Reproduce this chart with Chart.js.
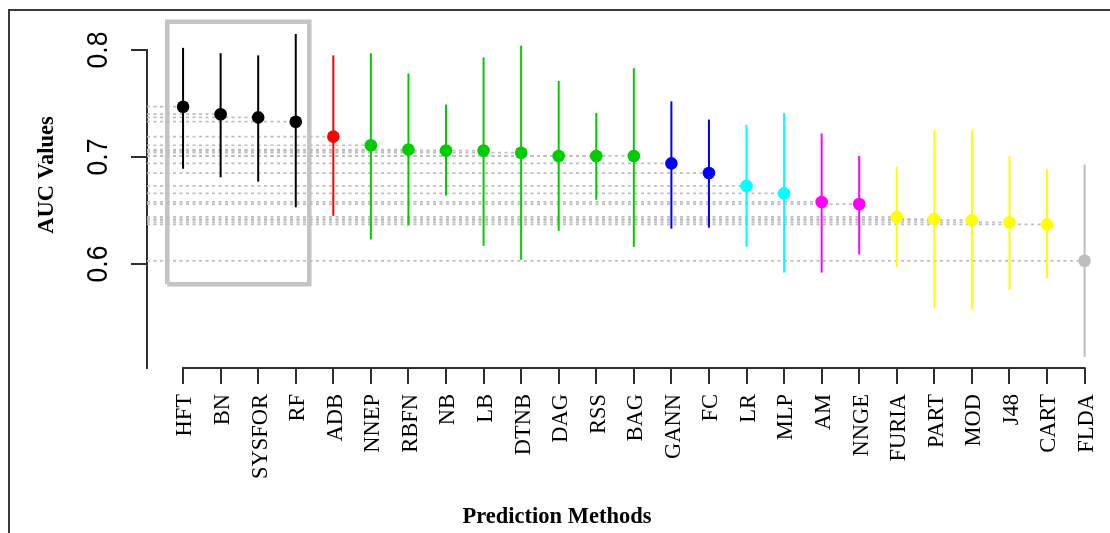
<!DOCTYPE html>
<html>
<head>
<meta charset="utf-8">
<title>AUC Values by Prediction Method</title>
<script src="https://cdn.jsdelivr.net/npm/chart.js@4.4.1/dist/chart.umd.min.js"></script>
<style>
  html, body { margin: 0; padding: 0; background: #fff; overflow: hidden; }
  #wrap { position: relative; width: 1110px; height: 533px; }
  #frame { position: absolute; left: 8px; top: 9px; right: -20px; bottom: -20px;
           border-left: 2.5px solid #3a3a3a; border-top: 2.5px solid #3a3a3a; pointer-events: none; }
  canvas { display: block; }
</style>
</head>
<body>
<div id="wrap">
  <canvas id="chart" width="1110" height="533"></canvas>
  <div id="frame"></div>
</div>
<script>
// Prediction methods, ordered by mean AUC
const methods = ['HFT', 'BN', 'SYSFOR', 'RF', 'ADB', 'NNEP', 'RBFN', 'NB', 'LB', 'DTNB', 'DAG', 'RSS', 'BAG',
                 'GANN', 'FC', 'LR', 'MLP', 'AM', 'NNGE', 'FURIA', 'PART', 'MOD', 'J48', 'CART', 'FLDA'];
// Mean AUC per method
const aucMean = [0.747, 0.740, 0.737, 0.733, 0.719, 0.711, 0.707, 0.706, 0.706, 0.704, 0.701, 0.701, 0.701,
                 0.694, 0.685, 0.673, 0.666, 0.658, 0.656, 0.644, 0.642, 0.641, 0.639, 0.637, 0.603];
// Lower end of each interval
const aucLow = [0.689, 0.681, 0.677, 0.653, 0.645, 0.623, 0.636, 0.664, 0.617, 0.604, 0.631, 0.660, 0.616,
                0.633, 0.634, 0.616, 0.592, 0.592, 0.609, 0.597, 0.559, 0.558, 0.576, 0.587, 0.513];
// Upper end of each interval
const aucHigh = [0.802, 0.797, 0.795, 0.815, 0.795, 0.797, 0.778, 0.749, 0.793, 0.804, 0.771, 0.741, 0.783,
                 0.752, 0.735, 0.730, 0.741, 0.722, 0.701, 0.691, 0.725, 0.725, 0.701, 0.689, 0.693];
// Group index of each method (methods in one group are not significantly different)
const methodGroup = [0, 0, 0, 0, 1, 2, 2, 2, 2, 2, 2, 2, 2, 3, 3, 4, 4, 5, 5, 6, 6, 6, 6, 6, 7];
// Y axis tick values and labels
const yTickValues = [0.6, 0.7, 0.8];
const yTickLabels = ['0.6', '0.7', '0.8'];
// Highlighted top group, in data units
const topGroupX = [0.58, 4.36];
const topGroupY = [0.581, 0.8265];

// Styling
const groupColors = ['#000000', '#FF0000', '#00CD00', '#0000FF', '#00FFFF', '#FF00FF', '#FFFF00', '#BEBEBE'];
const refColor = '#BEBEBE';
const axisColor = '#2e2e2e';
const X_MIN = 0.04, X_MAX = 25.509;
const Y_MIN = 0.5028, Y_MAX = 0.8;

const colorOf = i => groupColors[methodGroup[i]];

// Mean markers
const pointSet = {
  type: 'scatter',
  order: 0,
  clip: false,
  data: methods.map((m, i) => ({ x: i + 1, y: aucMean[i] })),
  pointRadius: 6.3,
  pointHoverRadius: 6.3,
  pointBorderWidth: 0,
  pointBackgroundColor: methods.map((m, i) => colorOf(i)),
  showLine: false
};

// Interval whiskers
const whiskerSets = methods.map((m, i) => ({
  type: 'line',
  order: 1,
  clip: false,
  data: [{ x: i + 1, y: aucLow[i] }, { x: i + 1, y: aucHigh[i] }],
  borderColor: colorOf(i),
  borderWidth: 2,
  pointRadius: 0,
  pointHoverRadius: 0,
  fill: false
}));

// Dashed reference lines from the axis to each mean
const refSets = methods.map((m, i) => ({
  type: 'line',
  order: 2,
  clip: false,
  data: [{ x: X_MIN, y: aucMean[i] }, { x: i + 1, y: aucMean[i] }],
  borderColor: refColor,
  borderWidth: 1.7,
  borderDash: [3, 3.5],
  pointRadius: 0,
  pointHoverRadius: 0,
  fill: false
}));

// Box around the top group
const boxSet = {
  type: 'line',
  order: 3,
  clip: false,
  data: [
    { x: topGroupX[0], y: topGroupY[0] }, { x: topGroupX[0], y: topGroupY[1] },
    { x: topGroupX[1], y: topGroupY[1] }, { x: topGroupX[1], y: topGroupY[0] },
    { x: topGroupX[0], y: topGroupY[0] }
  ],
  borderColor: '#C4C4C4',
  borderWidth: 4.5,
  borderJoinStyle: 'miter',
  pointRadius: 0,
  pointHoverRadius: 0,
  fill: false
};

// Axis titles, rotated y tick labels and the x axis line between the outer ticks
const axisDecor = {
  id: 'axisDecor',
  afterDraw(chart) {
    const { ctx, scales: { x, y }, chartArea } = chart;
    ctx.save();
    ctx.strokeStyle = axisColor;
    ctx.lineWidth = 2;
    ctx.beginPath();
    ctx.moveTo(x.getPixelForValue(1) - 1, chartArea.bottom);
    ctx.lineTo(x.getPixelForValue(methods.length) + 1, chartArea.bottom);
    ctx.stroke();

    ctx.fillStyle = '#000';
    ctx.textAlign = 'center';
    ctx.textBaseline = 'alphabetic';
    ctx.font = '26.5px "Liberation Sans", Arial, sans-serif';
    yTickValues.forEach((v, i) => {
      ctx.save();
      ctx.translate(107, y.getPixelForValue(v));
      ctx.rotate(-Math.PI / 2);
      ctx.scale(1, 1.1);
      ctx.fillText(yTickLabels[i], 0, 0);
      ctx.restore();
    });

    ctx.font = 'bold 22.5px "Liberation Serif", "Times New Roman", serif';
    ctx.save();
    ctx.translate(53, 175);
    ctx.rotate(-Math.PI / 2);
    ctx.fillText('AUC Values', 0, 0);
    ctx.restore();
    ctx.fillText('Prediction Methods', 557, 523);
    ctx.restore();
  }
};

new Chart(document.getElementById('chart'), {
  type: 'scatter',
  data: { datasets: [pointSet, ...whiskerSets, ...refSets, boxSet] },
  plugins: [axisDecor],
  options: {
    responsive: false,
    animation: false,
    events: [],
    layout: { padding: { top: 50, left: 0, right: 0, bottom: 0 } },
    plugins: { legend: { display: false }, tooltip: { enabled: false }, title: { display: false } },
    scales: {
      x: {
        type: 'linear',
        min: X_MIN,
        max: X_MAX,
        afterBuildTicks: s => { s.ticks = methods.map((m, i) => ({ value: i + 1 })); },
        afterFit: s => { s.height = 165; s.paddingLeft = 0; s.paddingRight = 0; },
        ticks: {
          autoSkip: false,
          minRotation: 90,
          maxRotation: 90,
          padding: 10,
          labelOffset: 2.5,
          color: '#000',
          font: { family: '"Liberation Serif", "Times New Roman", serif', size: 22.5 },
          callback: (v, i) => methods[i]
        },
        grid: { drawOnChartArea: false, drawTicks: true, tickLength: 16, color: axisColor, lineWidth: 2 },
        border: { display: false }
      },
      y: {
        type: 'linear',
        min: Y_MIN,
        max: Y_MAX,
        afterBuildTicks: s => { s.ticks = yTickValues.map(v => ({ value: v })); },
        afterFit: s => { s.width = 147; s.paddingTop = 0; s.paddingBottom = 0; },
        ticks: { display: false },
        grid: { drawOnChartArea: false, drawTicks: true, tickLength: 16, color: axisColor, lineWidth: 2 },
        border: { display: true, color: axisColor, width: 2 }
      }
    }
  }
});
</script>
</body>
</html>
